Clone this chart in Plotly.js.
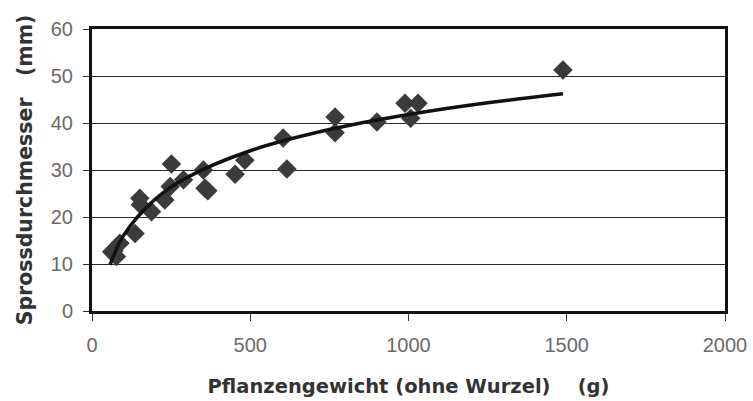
<!DOCTYPE html>
<html><head><meta charset="utf-8">
<script src="https://cdn.plot.ly/plotly-3.0.1.min.js"></script>
<style>html,body{margin:0;padding:0;background:#fff}#chart{width:753px;height:401px}</style>
</head><body><div id="chart"></div>
<script>
const weightG = [62, 69, 77, 88, 136, 151, 153, 188, 230, 247, 251, 289, 352, 357, 366, 452, 483, 604, 616, 768, 768, 900, 989, 1007, 1030, 1488];
const diameterMm = [12.6, 12.8, 11.6, 14.4, 16.5, 24.0, 22.6, 21.1, 23.6, 26.5, 31.3, 27.9, 30.0, 26.1, 25.6, 29.1, 32.1, 36.8, 30.2, 41.3, 37.9, 40.2, 44.2, 41.0, 44.2, 51.3];
const trendX = [57, 100, 200, 300, 500, 750, 1000, 1250, 1488];
const trendY = [9.8, 16.1, 23.8, 28.4, 34.1, 38.6, 41.8, 44.3, 46.2];
const xTicks = [0, 500, 1000, 1500, 2000];
const yTicks = [0, 10, 20, 30, 40, 50, 60];

const titleFont = {size: 19.5, color: '#333', family: 'DejaVu Sans, sans-serif', weight: 'bold'};
const tickFont = {size: 20, color: '#6a6a6a', family: 'Liberation Sans, Arial, sans-serif'};

const data = [
  {x: weightG, y: diameterMm, type: 'scatter', mode: 'markers',
   marker: {symbol: 'diamond', size: 15, color: '#3b3b3b'}, hoverinfo: 'x+y'},
  {x: trendX, y: trendY, type: 'scatter', mode: 'lines',
   line: {color: '#111', width: 3.5, shape: 'spline'}}
];
const layout = {
  width: 753, height: 401,
  margin: {l: 92, r: 28, t: 29, b: 90},
  paper_bgcolor: '#fff', plot_bgcolor: '#fff',
  showlegend: false,
  font: {family: 'Liberation Sans, Arial, sans-serif', color: '#666'},
  xaxis: {range: [0, 2000], tickvals: xTicks, ticktext: xTicks.map(String),
    showgrid: false, zeroline: false, showline: true, mirror: true,
    linecolor: '#111', linewidth: 3, ticks: 'outside', ticklen: 7, tickcolor: '#333',
    ticklabelstandoff: 7,
    tickfont: tickFont,
    title: {text: 'Pflanzengewicht (ohne Wurzel)    (g)', font: titleFont, standoff: 25}},
  yaxis: {range: [0, 60], tickvals: yTicks, ticktext: yTicks.map(String),
    showgrid: true, gridcolor: '#2a2a2a', gridwidth: 1, zeroline: false,
    showline: true, mirror: true, linecolor: '#111', linewidth: 3,
    ticks: 'outside', ticklen: 6, tickcolor: '#333',
    ticklabelstandoff: 6,
    tickfont: tickFont,
    title: {text: 'Sprossdurchmesser   (mm)', font: Object.assign({}, titleFont, {size: 20.5}), standoff: 13}}
};
Plotly.newPlot('chart', data, layout, {displayModeBar: false, staticPlot: true});
</script></body></html>
